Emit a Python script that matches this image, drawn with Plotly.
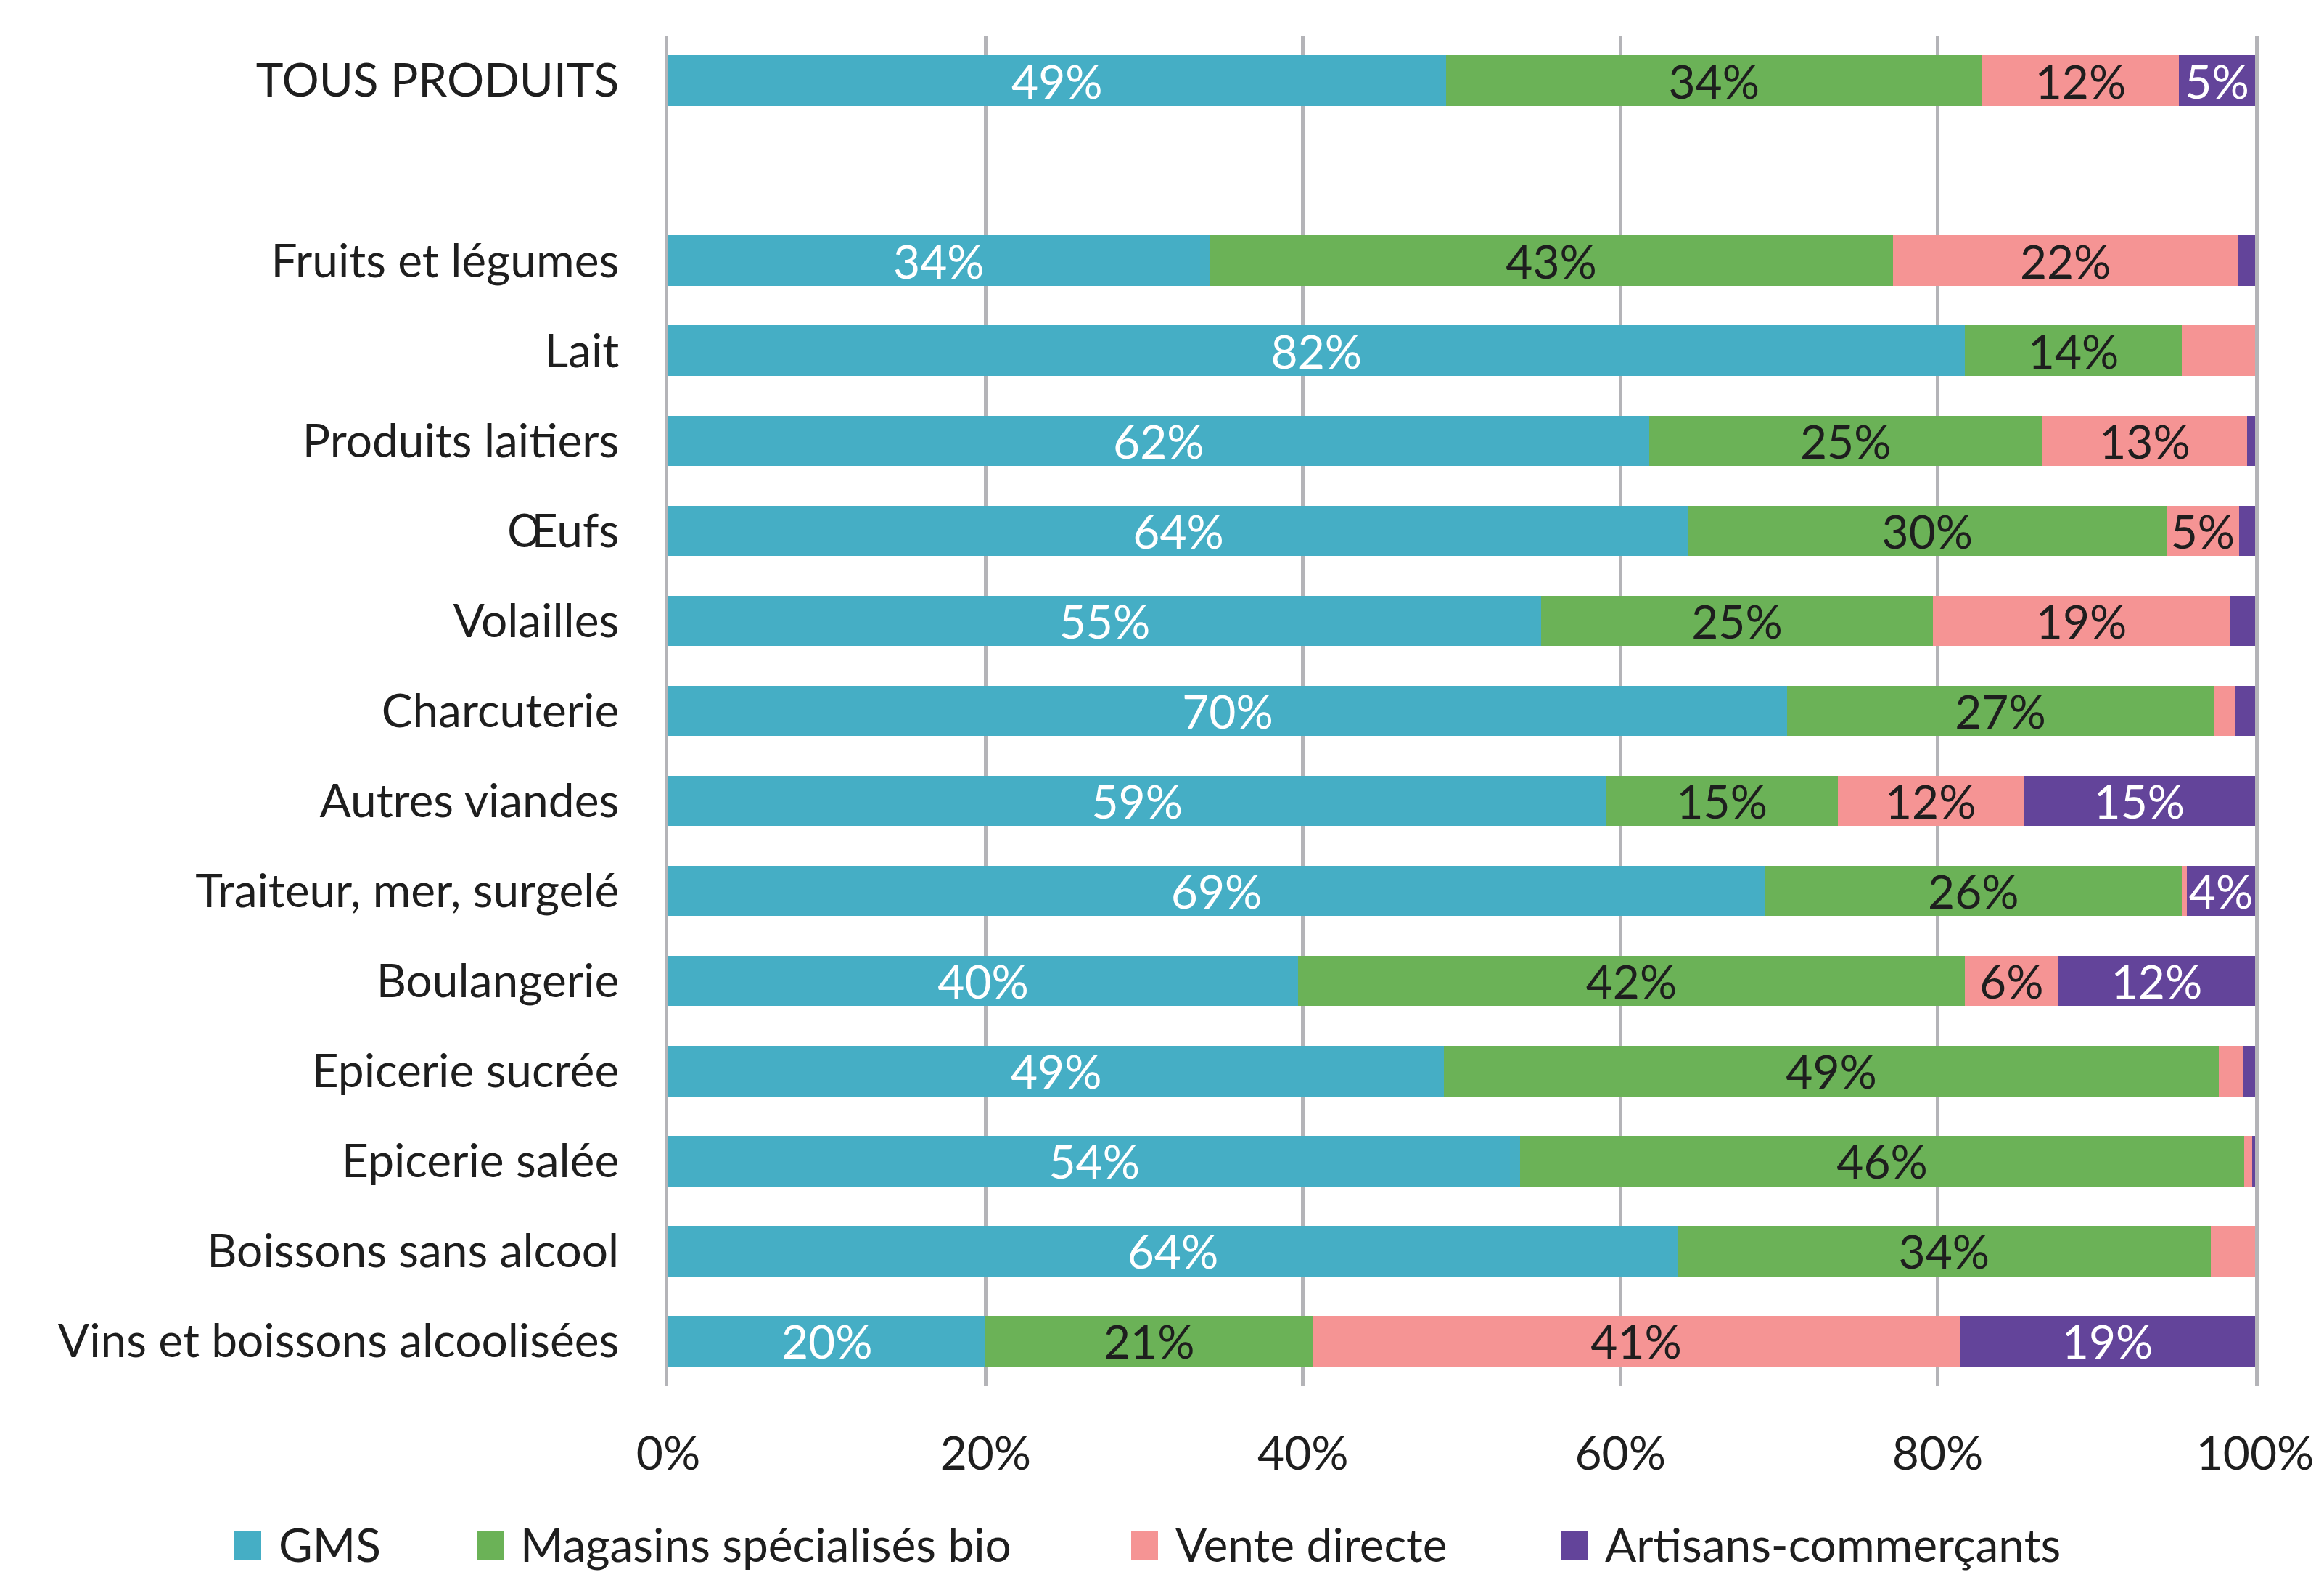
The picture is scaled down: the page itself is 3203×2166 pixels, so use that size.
import plotly.graph_objects as go

# ---------------- data ----------------
categories = ["TOUS PRODUITS", " ", "Fruits et légumes", "Lait", "Produits laitiers", "Œufs",
              "Volailles", "Charcuterie", "Autres viandes", "Traiteur, mer, surgelé",
              "Boulangerie", "Epicerie sucrée", "Epicerie salée", "Boissons sans alcool",
              "Vins et boissons alcoolisées"]
series_names = ["GMS", "Magasins spécialisés bio", "Vente directe", "Artisans-commerçants"]
gms =       [49.0, None, 34.1, 81.7, 61.8, 64.3, 55.0, 70.5, 59.1, 69.1, 39.7, 48.9, 53.7, 63.6, 20.0]
magasins =  [33.8, None, 43.1, 13.7, 24.8, 30.1, 24.7, 26.9, 14.6, 26.3, 42.0, 48.8, 45.6, 33.6, 20.6]
vente =     [12.4, None, 21.7, 4.6, 12.9, 4.6, 18.7, 1.3, 11.7, 0.3, 5.9, 1.5, 0.5, 2.8, 40.8]
artisans =  [4.8, None, 1.1, 0.0, 0.5, 1.0, 1.6, 1.3, 14.6, 4.3, 12.4, 0.8, 0.2, 0.0, 18.6]
x_tickvals = [0, 20, 40, 60, 80, 100]
x_ticktext = ["0%", "20%", "40%", "60%", "80%", "100%"]
# data labels that were removed in the original chart
hidden_labels = {("Vente directe", "Lait")}

# ---------------- style ----------------
FONT = "Lato, 'Open Sans', sans-serif"
FS = 64
colors = ["#45AEC5", "#6BB257", "#F59494", "#63449A"]
label_colors = ["#FFFFFF", "#1E1E1E", "#1E1E1E", "#FFFFFF"]
W, H = 3203, 2166
L, R, T, B = 921, 95, 49, 256
PW, PH = W - L - R, H - T - B


def make_text(name, values):
    out = []
    for cat, v in zip(categories, values):
        if v is None or v < 3.5 or (name, cat) in hidden_labels:
            out.append("")
        else:
            out.append(f"{v:.0f}%")
    return out


fig = go.Figure()
for name, vals, col, lcol in zip(series_names, [gms, magasins, vente, artisans], colors, label_colors):
    fig.add_trace(go.Bar(
        y=categories, x=vals, name=name, orientation="h",
        marker=dict(color=col, line=dict(width=0)),
        text=make_text(name, vals), textposition="inside", insidetextanchor="middle",
        textangle=0, textfont=dict(family=FONT, size=FS, color=lcol),
        showlegend=False, hoverinfo="skip"))

fig.update_layout(
    width=W, height=H, barmode="stack", bargap=0.44,
    margin=dict(l=L, r=R, t=T, b=B, pad=0),
    plot_bgcolor="white", paper_bgcolor="white",
    font=dict(family=FONT, size=FS, color="#1E1E1E"),
    uniformtext=dict(mode="show", minsize=FS),
)
fig.update_xaxes(range=[0, 100], tickvals=x_tickvals, ticktext=x_ticktext,
                 showgrid=True, gridcolor="#B4B4B8", gridwidth=5, zeroline=False,
                 showline=False, ticks="", ticklabelstandoff=50,
                 tickfont=dict(family=FONT, size=FS, color="#1E1E1E"))
fig.update_yaxes(categoryorder="array", categoryarray=categories, autorange="reversed",
                 showgrid=False, zeroline=False, showline=True, mirror=True,
                 linecolor="#B4B4B8", linewidth=5, ticks="", ticklabelstandoff=50,
                 tickfont=dict(family=FONT, size=FS, color="#1E1E1E"))

# ---------------- manual legend (large swatches like the original) ----------------
def px_x(px):
    return (px - L) / PW


def px_y(py):
    return (T + PH - py) / PH


legend_swatch_px = [323, 658, 1559, 2151]
legend_text_px = [382, 715, 1618, 2210]
sw_w, sw_top, sw_bot, txt_y = 37, 2110, 2150, 2127
for name, col, sx, tx in zip(series_names, colors, legend_swatch_px, legend_text_px):
    fig.add_shape(type="rect", xref="paper", yref="paper",
                  x0=px_x(sx), x1=px_x(sx + sw_w), y0=px_y(sw_bot), y1=px_y(sw_top),
                  fillcolor=col, line=dict(width=0))
    fig.add_annotation(xref="paper", yref="paper", x=px_x(tx), y=px_y(txt_y),
                       text=name, showarrow=False, xanchor="left", yanchor="middle",
                       font=dict(family=FONT, size=FS, color="#1E1E1E"))

fig.write_html("out.html", config={"displayModeBar": False},
               post_script="document.body.style.margin='0';document.body.style.overflow='hidden';")
